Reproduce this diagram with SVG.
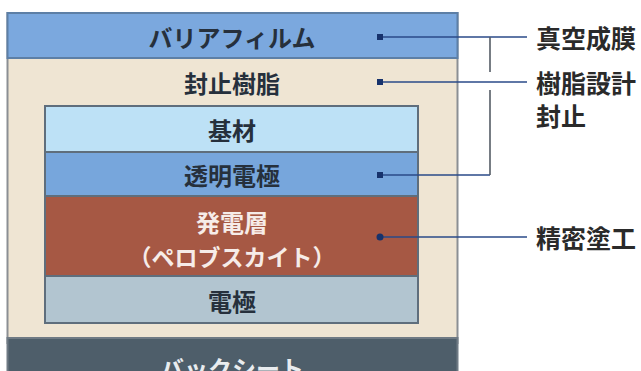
<svg xmlns="http://www.w3.org/2000/svg" width="641" height="371" viewBox="0 0 641 371">
<style>
.lbl{font-family:"Noto Sans CJK JP","Noto Sans",sans-serif;font-size:24px;font-weight:700;text-anchor:middle;dominant-baseline:central;fill:#26303c}
.lw{fill:#f6ece8}
.rl{font-family:"Noto Sans CJK JP","Noto Sans",sans-serif;font-size:25px;font-weight:700;dominant-baseline:central;fill:#2a2a2a}
.ld{stroke:#2a4a88;stroke-width:1.6;fill:none}
.br{stroke:#555d66;stroke-width:1.6;fill:none}
.dot{fill:#17326c}
</style>
<rect width="641" height="371" fill="#ffffff"/>
<g id="sealing-resin">
<rect x="7.5" y="13" width="450" height="330" fill="#efe5d3" stroke="#8b8f94" stroke-width="2"/>
<text class="lbl" x="232" y="82">封止樹脂</text>
</g>
<g id="barrier-film">
<rect x="7.5" y="13" width="450" height="45" fill="#7ba8de" stroke="#5d7fa6" stroke-width="2"/>
<text class="lbl" x="232" y="36">バリアフィルム</text>
</g>
<g id="substrate">
<rect x="45" y="106" width="373" height="46" fill="#bde1f6" stroke="#5f6e7c" stroke-width="2"/>
<text class="lbl" x="232" y="129">基材</text>
</g>
<g id="transparent-electrode">
<rect x="45" y="152" width="373" height="44" fill="#77a6dc" stroke="#5f6e7c" stroke-width="2"/>
<text class="lbl" x="232" y="174">透明電極</text>
</g>
<g id="power-layer">
<rect x="45" y="196" width="373" height="80" fill="#a65844" stroke="#5f6e7c" stroke-width="2"/>
<text class="lbl lw" x="232" y="221">発電層</text>
<text class="lbl lw" x="232" y="256" style="font-size:23px">（ペロブスカイト）</text>
</g>
<g id="electrode">
<rect x="45" y="276" width="373" height="47" fill="#b2c5d0" stroke="#5f6e7c" stroke-width="2"/>
<text class="lbl" x="232" y="300">電極</text>
</g>
<g id="back-sheet">
<rect x="7.5" y="338" width="450" height="40" fill="#4e5e6a" stroke="#6f7a84" stroke-width="2"/>
<text class="lbl lw" x="232" y="367" style="fill:#e8ecef">バックシート</text>
</g>
<g id="connectors">
<path class="ld" d="M380 37H527"/>
<path class="ld" d="M380 82H527"/>
<path class="ld" d="M380 175H490"/>
<path class="ld" d="M380 237H527"/>
<path class="br" d="M490 37V72M490 90V175"/>
<rect class="dot" x="377" y="34" width="6" height="6"/>
<rect class="dot" x="377" y="79" width="6" height="6"/>
<rect class="dot" x="377" y="172" width="6" height="6"/>
<circle class="dot" cx="380" cy="237" r="3.5"/>
</g>
<g id="labels">
<text class="rl" x="536" y="37">真空成膜</text>
<text class="rl" x="536" y="82">樹脂設計</text>
<text class="rl" x="536" y="115">封止</text>
<text class="rl" x="536" y="237">精密塗工</text>
</g>
</svg>
